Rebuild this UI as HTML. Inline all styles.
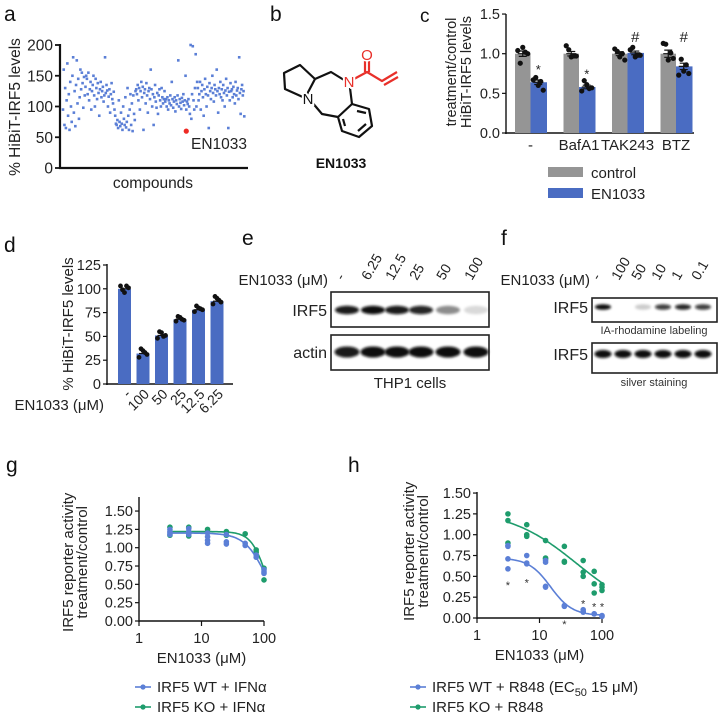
<!DOCTYPE html>
<html><head><meta charset="utf-8"><style>
body{margin:0;background:#fff;}
svg{display:block;font-family:"Liberation Sans",Arial,sans-serif;}
</style></head><body>
<svg id="fig" width="720" height="714" viewBox="0 0 720 714" xmlns="http://www.w3.org/2000/svg">
<defs><filter id="blur" x="-50%" y="-100%" width="200%" height="300%"><feGaussianBlur stdDeviation="1.2"/></filter></defs>
<g font-size="21" fill="#111">
<text x="4" y="21">a</text>
<text x="270" y="21">b</text>
<text x="420" y="22" font-size="19">c</text>
<text x="4" y="252">d</text>
<text x="242" y="245">e</text>
<text x="501" y="245">f</text>
<text x="6" y="472">g</text>
<text x="348" y="472">h</text>
</g>
<g id="pa"></g>
<g id="pb" fill="none" stroke="#111" stroke-width="2.2" stroke-linejoin="round">
<polyline points="315,79 300,65 284,73 285,89 305,98 315,79 331,72 344,80"/>
<polyline points="311,101 322,114 338,117"/>
<polygon points="338,117 352,104 369,109 372,126 359,137 342,131"/>
<line x1="357" y1="111" x2="366" y2="113"/>
<line x1="366" y1="124" x2="358" y2="131"/>
<line x1="345" y1="126" x2="343" y2="119"/>
<line x1="350" y1="88" x2="352" y2="104"/>
<g stroke="#e8302a"><polyline points="354,79 367,72 382,81 397,72"/>
<line x1="365" y1="72" x2="365" y2="60"/><line x1="369" y1="72" x2="369" y2="60"/>
<line x1="384" y1="85" x2="398" y2="77"/></g>
</g>
<g font-size="15" text-anchor="middle">
<text x="308" y="104" fill="#111" stroke="#fff" stroke-width="4" paint-order="stroke">N</text>
<text x="349" y="87" fill="#e8302a" stroke="#fff" stroke-width="4" paint-order="stroke">N</text>
<text x="367" y="60" fill="#e8302a" stroke="#fff" stroke-width="3" paint-order="stroke">O</text>
<text x="341" y="168" font-weight="bold" font-size="14" fill="#111">EN1033</text>
</g>
<g id="pc"></g>
<g id="pd"></g>
<g id="pe"></g>
<g id="pf"></g>
<g id="pg"></g>
<g id="ph"></g>
</svg>
<script>
const screenValues=[95,160,70,130,65,110,170,85,120,62,140,100,75,150,180,90,125,68,135,175,105,145,80,115,160,128,155,138,98,148,118,
132,150,145,120,155,110,128,140,95,125,135,150,118,100,145,130,112,138,122,85,128,140,115,125,132,108,118,180,122,135,126,100,116,128,90,120,138,112,105,124,
95,85,72,70,78,65,110,75,68,90,72,62,100,80,70,115,66,75,130,85,62,95,120,70,105,60,118,88,78,125,
128,120,135,110,130,95,125,140,115,132,62,122,128,105,138,118,90,125,130,112,160,128,100,120,70,115,135,108,98,122,88,118,128,110,100,130,115,105,112,125,
108,112,100,115,95,110,105,118,102,140,112,98,108,115,92,110,104,118,175,100,112,106,96,114,108,120,102,110,150,95,108,104,112,100,88,
200,80,120,198,110,95,130,185,100,140,
130,110,120,140,95,125,135,115,85,128,145,120,100,132,118,65,138,125,112,130,150,122,108,135,128,118,160,125,90,130,120,140,115,128,110,135,122,100,126,145,118,130,65,124,110,138,125,128,115,132,120,105,140,118,126,130,112,180,122,88,128,135,118,125,84];
const hitIndex=170, hitValue=60;
const aTicks=[0,50,100,150,200];

const cCats=["-","BafA1","TAK243","BTZ"];
const cControl=[1.0,1.0,1.0,1.0];
const cEN=[0.64,0.58,1.01,0.84];
const cControlPts=[[1.04,1.08,1.00,0.88,1.02],[1.10,0.96,0.97,1.05,0.97],[1.06,0.96,0.92,1.03,1.00],[1.13,0.92,0.94,1.12,1.01]];
const cENPts=[[0.67,0.60,0.54,0.70,0.65],[0.53,0.61,0.57,0.66,0.56],[1.05,0.96,0.98,1.08,0.98],[0.73,0.78,0.75,0.93,0.86]];
const cSig=["*","*","#","#"];
const cTicks=[0,0.5,1.0,1.5];

const dCats=["-","100","50","25","12.5","6.25"];
const dVals=[100,32,51,68,78,87];
const dPts=[[103,96,101,99,103],[28,35,31,37,33],[48,54,51,55,50],[66,70,67,71,68],[76,80,78,82,79],[84,90,86,92,88]];
const dTicks=[0,25,50,75,100,125];

const eLanes=["-","6.25","12.5","25","50","100"];
const eIRF5=[0.95,1,0.95,0.9,0.45,0.15];
const eActin=[0.95,1,1,1,1,1];
const fLanes=["-","100","50","10","1","0.1"];
const fLabel=[1,0,0.2,0.8,0.9,0.8];
const fSilver=[1,1,1,1,1,1];

const doses=[3.125,6.25,12.5,25,50,75,100];
const gWT=[[1.25,1.22,1.20,1.18],[1.26,1.22,1.19,1.18],[1.20,1.15,1.10,1.06],[1.18,1.08,1.05],[1.06,1.03],[0.90,0.87],[0.70,0.67,0.65]];
const gKO=[[1.28,1.17],[1.28,1.16],[1.25],[1.22,1.17],[1.19],[0.97,0.94],[0.72,0.56]];
const gFitWT=[1.20,0,110,2.5];
const gFitKO=[1.22,0,110,3.5];
const hWT=[[0.87,0.86,0.71,0.59],[0.75,0.66,0.65],[0.69,0.67,0.38,0.37],[0.15,0.14],[0.10,0.08,0.07],[0.05,0.05],[0.03,0.02]];
const hKO=[[1.25,1.17,0.90],[1.12,1.00,0.98],[0.93,0.72,0.71],[0.86,0.68,0.67],[0.69,0.55,0.50],[0.56,0.41,0.30],[0.40,0.37,0.33]];
const hFitWT=[0.72,0.03,15,2.5];
const hFitKO=[1.3,0,40,0.8];
const hStars=[0.42,0.45,null,-0.05,0.2,0.16,0.16];
const gyTicks=[0,0.25,0.5,0.75,1.0,1.25,1.5];
const xDecades=[1,10,100];

const NS="http://www.w3.org/2000/svg";
function mk(parent,tag,attrs,txt){const e=document.createElementNS(NS,tag);for(const k in attrs)e.setAttribute(k,attrs[k]);if(txt!==undefined)e.textContent=txt;parent.appendChild(e);return e;}
const BLUE="#4a6cc2", GRAY="#959595", GREEN="#1e9c6c", DOT="#5b7fd6";

(function(){
const g=document.getElementById('pa');
const ya=v=>168-v/200*123, xa=i=>63+i*(182/screenValues.length);
let e=mk(g,'line',{x1:60,y1:44,x2:60,y2:169,stroke:'#111','stroke-width':2.2});

e=mk(g,'line',{x1:59,y1:168,x2:248,y2:168,stroke:'#111','stroke-width':2.2});

aTicks.forEach(t=>{
 let l=mk(g,'line',{x1:55,x2:60,y1:ya(t),y2:ya(t),stroke:'#111','stroke-width':1.8});
 
 let tx=mk(g,'text',{x:53,y:ya(t)+5.5,'text-anchor':'end','font-size':15.5,fill:'#222'},String(t));
 
});
screenValues.forEach((v,i)=>{
 let c=mk(g,'rect',{x:xa(i)-1.3,y:ya(v)-1.3,width:2.6,height:2.6,fill:DOT});
 
});
let h=mk(g,'circle',{cx:xa(hitIndex),cy:ya(hitValue),r:2.6,fill:'#ee2a24'});

let hl=mk(g,'text',{x:191,y:149,'font-size':15.5,fill:'#222'},'EN1033');

let yt=mk(g,'text',{x:0,y:0,'font-size':15.5,fill:'#222','text-anchor':'middle',transform:'translate(20,107) rotate(-90)'},'% HiBiT-IRF5 levels');

let xt=mk(g,'text',{x:153,y:188,'font-size':15.5,fill:'#222','text-anchor':'middle'},'compounds');

})();

(function(){
const g=document.getElementById('pc');
const yc=v=>133-v*79.3, gx=i=>515+i*48.5, bw=15.5;
let e=mk(g,'line',{x1:506,y1:14,x2:506,y2:134,stroke:'#111','stroke-width':1.4});

e=mk(g,'line',{x1:505,y1:133,x2:694,y2:133,stroke:'#111','stroke-width':1.4});

cTicks.forEach(t=>{
 let l=mk(g,'line',{x1:502,x2:506,y1:yc(t),y2:yc(t),stroke:'#111','stroke-width':1.2});
 
 let tx=mk(g,'text',{x:500,y:yc(t)+5,'text-anchor':'end','font-size':14.5,fill:'#222'},t.toFixed(1));
 
});
cCats.forEach((c,i)=>{
 const x0=gx(i);
 let b=mk(g,'rect',{x:x0,y:yc(cControl[i]),width:bw,height:yc(0)-yc(cControl[i]),fill:GRAY});
 
 b=mk(g,'rect',{x:x0+bw,y:yc(cEN[i]),width:bw+1,height:yc(0)-yc(cEN[i]),fill:BLUE});
 
 [[cControlPts[i],x0+bw/2],[cENPts[i],x0+bw*1.5]].forEach(([pts,cx],k)=>{
  const m=k?cEN[i]:cControl[i];
  const sd=Math.sqrt(pts.reduce((s,p)=>s+(p-m)*(p-m),0)/pts.length)/2;
  let eb=mk(g,'path',{d:`M${cx},${yc(m-sd)}V${yc(m+sd)}M${cx-4},${yc(m+sd)}h8M${cx-4},${yc(m-sd)}h8M${cx-5},${yc(m)}h10`,stroke:'#111','stroke-width':1.2,fill:'none'});
  
  const offs=[-5,0,5,-2.5,2.5];
  pts.forEach((p,j)=>{let d=mk(g,'circle',{cx:cx+offs[j],cy:yc(p),r:2.6,fill:'#111'});
   });
 });
 let s=mk(g,'text',{x:x0+bw*1.5,y:cSig[i]=='#'?yc(1.2)+4:yc(cEN[i]+0.18)+6,'text-anchor':'middle','font-size':cSig[i]=='#'?15:13,fill:'#222'},cSig[i]);
 
 let lb=mk(g,'text',{x:x0+bw,y:150,'text-anchor':'middle','font-size':15,fill:'#222'},c);
 
});
let t1=mk(g,'text',{x:0,y:0,'font-size':14.5,fill:'#222','text-anchor':'middle',transform:'translate(456,72) rotate(-90)'},'treatment/control');

let t2=mk(g,'text',{x:0,y:0,'font-size':14.5,fill:'#222','text-anchor':'middle',transform:'translate(471,72) rotate(-90)'},'HiBiT-IRF5 levels');

let lr=mk(g,'rect',{x:548,y:167,width:35,height:10,fill:GRAY});
let lt=mk(g,'text',{x:591,y:178,'font-size':15,fill:'#222'},'control');
lr=mk(g,'rect',{x:548,y:188,width:35,height:10,fill:BLUE});
lt=mk(g,'text',{x:591,y:199,'font-size':15,fill:'#222'},'EN1033');
})();

(function(){
const g=document.getElementById('pd');
const yd=v=>384-v*0.952, xd=i=>124.5+i*18.5, bw=13;
let e=mk(g,'line',{x1:107,y1:264,x2:107,y2:385,stroke:'#111','stroke-width':1.4});

e=mk(g,'line',{x1:106,y1:384,x2:233,y2:384,stroke:'#111','stroke-width':1.4});

dTicks.forEach(t=>{
 let l=mk(g,'line',{x1:103,x2:107,y1:yd(t),y2:yd(t),stroke:'#111','stroke-width':1.2});
 
 let tx=mk(g,'text',{x:101,y:yd(t)+5,'text-anchor':'end','font-size':14.5,fill:'#222'},String(t));
 
});
dCats.forEach((c,i)=>{
 const cx=xd(i);
 let b=mk(g,'rect',{x:cx-bw/2,y:yd(dVals[i]),width:bw,height:yd(0)-yd(dVals[i]),fill:BLUE});
 
 const offs=[-4,0,4,-2,2];
 dPts[i].forEach((p,j)=>{let d=mk(g,'circle',{cx:cx+offs[j],cy:yd(p),r:2.4,fill:'#111'});
  });
 let eb=mk(g,'path',{d:`M${cx-4},${yd(dVals[i])}h8`,stroke:'#111','stroke-width':1.2});
 
 let lb=mk(g,'text',{x:0,y:0,'text-anchor':'end','font-size':14,fill:'#222',transform:`translate(${cx+7},${395}) rotate(-45)`},c);
 
});
let yt=mk(g,'text',{x:0,y:0,'font-size':15,fill:'#222','text-anchor':'middle',transform:'translate(73,324) rotate(-90)'},'% HiBiT-IRF5 levels');

let xt=mk(g,'text',{x:104,y:410,'font-size':15,fill:'#222','text-anchor':'end'},'EN1033 (μM)');

})();

function blot(g,box,lanes,intens,by,rx,ry,label,labelName){
 let r=mk(g,'rect',{x:box[0],y:box[1],width:box[2],height:box[3],fill:'#fff',stroke:'#222','stroke-width':1.6});
 
 lanes.forEach((lx,i)=>{ if(intens[i]<=0) return;
  let b=mk(g,'ellipse',{cx:lx,cy:by,rx:rx,ry:ry,fill:'#0a0a0a','fill-opacity':intens[i],filter:'url(#blur)'});
  });
 let t=mk(g,'text',{x:box[0]-4,y:by+6,'text-anchor':'end','font-size':16,fill:'#222'},label);
 
}
(function(){
const g=document.getElementById('pe');
const lx=[347,373,397,421,448,476];
let t=mk(g,'text',{x:328,y:285,'text-anchor':'end','font-size':15,fill:'#222'},'EN1033 (μM)');

eLanes.forEach((l,i)=>{let x=mk(g,'text',{x:0,y:0,'font-size':14,fill:'#222',transform:`translate(${lx[i]-4},${281}) rotate(-60)`},l);
 });
blot(g,[331,292,158,35],lx,eIRF5,310,12,4.2,'IRF5','e-irf5');
blot(g,[331,335,158,35],lx,eActin,352,12.5,5.5,'actin','e-actin');
t=mk(g,'text',{x:410,y:388,'text-anchor':'middle','font-size':15,fill:'#222'},'THP1 cells');

})();
(function(){
const g=document.getElementById('pf');
const lx=[603,623,643,663,683,703];
let t=mk(g,'text',{x:590,y:285,'text-anchor':'end','font-size':15,fill:'#222'},'EN1033 (μM)');

fLanes.forEach((l,i)=>{let x=mk(g,'text',{x:0,y:0,'font-size':14,fill:'#222',transform:`translate(${lx[i]-4},${281}) rotate(-60)`},l);
 });
blot(g,[592,298,125,24],lx,fLabel,307,8,2.8,'IRF5','f-rhodamine');
t=mk(g,'text',{x:654,y:334,'text-anchor':'middle','font-size':11,fill:'#333'},'IA-rhodamine labeling');

blot(g,[592,343,125,30],lx,fSilver,354,8.5,4,'IRF5','f-silver');
t=mk(g,'text',{x:654,y:386,'text-anchor':'middle','font-size':11,fill:'#333'},'silver staining');

})();

function fit(p,d){return p[1]+(p[0]-p[1])/(1+Math.pow(d/p[2],p[3]));}
function doseChart(id,pre,x0,y0,pxUnit,yTop,wt,ko,fwt,fko,leg1,leg2,stars,titleOff){
 const g=document.getElementById(id);
 const xs=d=>x0+Math.log10(d)*62.5, ys=v=>y0-v*pxUnit;
 let e=mk(g,'line',{x1:x0,y1:yTop,x2:x0,y2:y0+1,stroke:'#111','stroke-width':1.4});
 
 e=mk(g,'line',{x1:x0,y1:y0,x2:xs(100),y2:y0,stroke:'#111','stroke-width':1.4});
 
 gyTicks.forEach(t=>{
  let l=mk(g,'line',{x1:x0-4,x2:x0,y1:ys(t),y2:ys(t),stroke:'#111','stroke-width':1.2});
  
  let tx=mk(g,'text',{x:x0-6,y:ys(t)+5,'text-anchor':'end','font-size':14.5,fill:'#222'},t.toFixed(2));
  
 });
 xDecades.forEach(d=>{
  let l=mk(g,'line',{x1:xs(d),x2:xs(d),y1:y0,y2:y0+5,stroke:'#111','stroke-width':1.2});
  
  let tx=mk(g,'text',{x:xs(d),y:y0+22,'text-anchor':'middle','font-size':14.5,fill:'#222'},String(d));
  
 });
 [[ko,fko,GREEN,'ko'],[wt,fwt,DOT,'wt']].forEach(([pts,p,col,nm])=>{
  let dstr='';for(let k=0;k<=60;k++){const lg=Math.log10(3.125)+k/60*(2-Math.log10(3.125));const d=Math.pow(10,lg);dstr+=(k?'L':'M')+xs(d).toFixed(1)+','+ys(fit(p,d)).toFixed(1);}
  let c=mk(g,'path',{d:dstr,stroke:col,'stroke-width':1.6,fill:'none'});
  
  pts.forEach((arr,i)=>arr.forEach(v=>{let dt=mk(g,'circle',{cx:xs(doses[i]),cy:ys(v),r:2.8,fill:col});
   }));
 });
 if(stars) stars.forEach((s,i)=>{ if(s===null) return;
  let st=mk(g,'text',{x:xs(doses[i]),y:ys(s)+6,'text-anchor':'middle','font-size':11,fill:'#333'},'*');
  });
 const yc=y0-0.8*pxUnit;
 let t1=mk(g,'text',{x:0,y:0,'font-size':15,fill:'#222','text-anchor':'middle',transform:`translate(${x0-titleOff},${yc}) rotate(-90)`},'IRF5 reporter activity');
 
 let t2=mk(g,'text',{x:0,y:0,'font-size':15,fill:'#222','text-anchor':'middle',transform:`translate(${x0-titleOff+14},${yc}) rotate(-90)`},'treatment/control');
 
 let xt=mk(g,'text',{x:xs(10),y:y0+42,'text-anchor':'middle','font-size':15,fill:'#222'},'EN1033 (μM)');
 
 const lx=x0-4-(pre=='h'?63:0);
 [[DOT,leg1,687,'wt'],[GREEN,leg2,707,'ko']].forEach(([col,txt,ly,nm])=>{
  let l=mk(g,'line',{x1:lx,x2:lx+16,y1:ly,y2:ly,stroke:col,'stroke-width':1.6});
  
  let c=mk(g,'circle',{cx:lx+8,cy:ly,r:2.6,fill:col});
  
  let t=mk(g,'text',{x:lx+22,y:ly+5,'font-size':15,fill:'#222'});
  t.innerHTML=txt;
  
 });
}
doseChart('pg','g',139,621,73.3,497,gWT,gKO,gFitWT,gFitKO,'IRF5 WT + IFNα','IRF5 KO + IFNα',null,66);
doseChart('ph','h',477,618,83.3,492,hWT,hKO,hFitWT,hFitKO,'IRF5 WT + R848 (EC<tspan font-size="11" dy="4">50</tspan><tspan dy="-4"> 15 μM)</tspan>','IRF5 KO + R848',hStars,63);
</script>
</body></html>
